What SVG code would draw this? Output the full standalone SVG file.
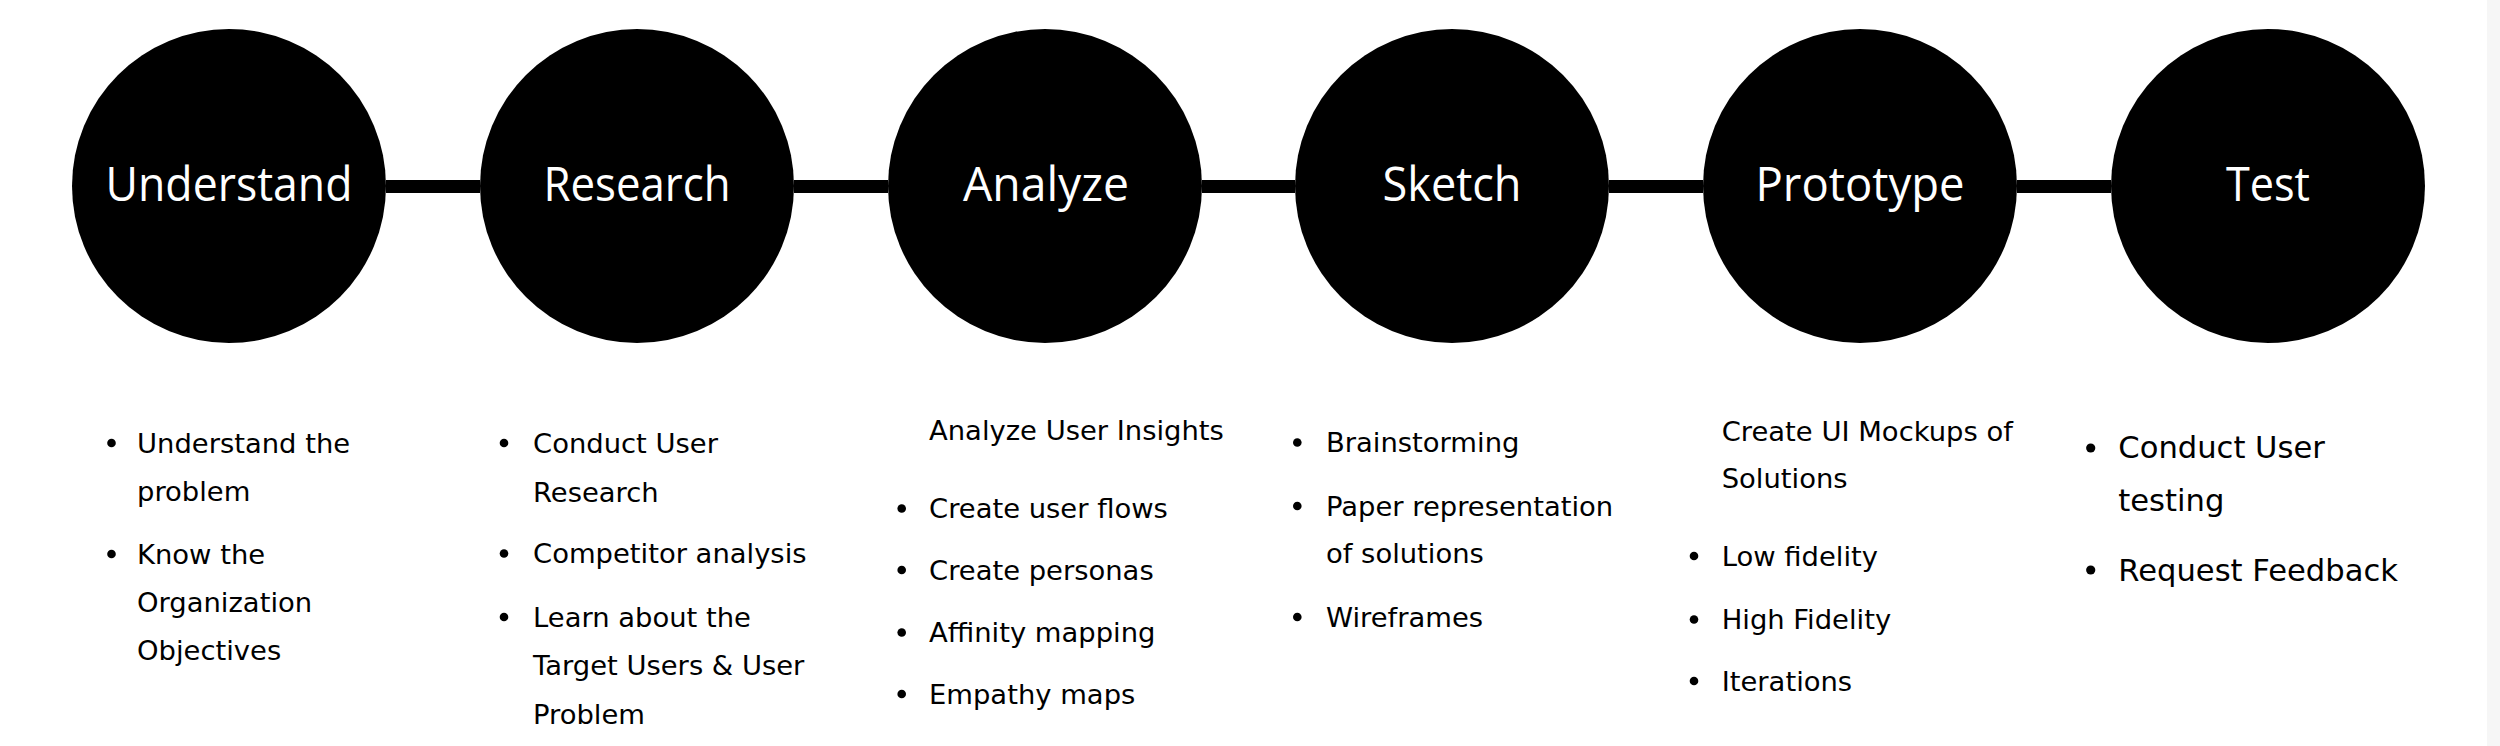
<svg xmlns="http://www.w3.org/2000/svg" width="2500" height="746" viewBox="0 0 2500 746">
<style>
.c{fill:#000}
.lbl{font-family:"Open Sans","Noto Sans",sans-serif;font-size:48px;fill:#fff;text-anchor:middle}
.t{font-family:"DejaVu Sans","Liberation Sans",sans-serif;font-size:27.4px;fill:#000}
.t2{font-family:"DejaVu Sans","Liberation Sans",sans-serif;font-size:30.6px;fill:#000}
.b{fill:#000}
.bar{fill:#000}
</style>
<rect x="0" y="0" width="2500" height="746" fill="#fff"/>
<rect x="2487" y="0" width="13" height="746" fill="#f6f6f6"/>
<g id="connectors">
<rect class="bar" x="386" y="180" width="94" height="13"/>
<rect class="bar" x="794" y="180" width="94" height="13"/>
<rect class="bar" x="1202" y="180" width="93" height="13"/>
<rect class="bar" x="1609" y="180" width="94" height="13"/>
<rect class="bar" x="2017" y="180" width="94" height="13"/>
</g>
<g id="understand">
<circle class="c" cx="229" cy="186" r="157"/>
<text class="lbl" x="229" y="201" textLength="247" lengthAdjust="spacingAndGlyphs">Understand</text>
<circle class="b" cx="111.5" cy="443" r="4.3"/>
<text class="t" x="137" y="452.7">Understand the</text>
<text class="t" x="137" y="501">problem</text>
<circle class="b" cx="111.5" cy="554" r="4.3"/>
<text class="t" x="137" y="564">Know the</text>
<text class="t" x="137" y="612">Organization</text>
<text class="t" x="137" y="660">Objectives</text>
</g>
<g id="research">
<circle class="c" cx="637" cy="186" r="157"/>
<text class="lbl" x="637" y="201" textLength="187" lengthAdjust="spacingAndGlyphs">Research</text>
<circle class="b" cx="504" cy="443" r="4.3"/>
<text class="t" x="533" y="452.7">Conduct User</text>
<text class="t" x="533" y="502">Research</text>
<circle class="b" cx="504" cy="553.5" r="4.3"/>
<text class="t" x="533" y="563.3">Competitor analysis</text>
<circle class="b" cx="504" cy="617" r="4.3"/>
<text class="t" x="533" y="626.7">Learn about the</text>
<text class="t" x="533" y="675">Target Users &amp; User</text>
<text class="t" x="533" y="724.3">Problem</text>
</g>
<g id="analyze">
<circle class="c" cx="1045" cy="186" r="157"/>
<text class="lbl" x="1046" y="201" textLength="166" lengthAdjust="spacingAndGlyphs">Analyze</text>
<text class="t" x="929" y="440">Analyze User Insights</text>
<circle class="b" cx="901.7" cy="508.5" r="4.3"/>
<text class="t" x="929" y="518.3">Create user flows</text>
<circle class="b" cx="901.7" cy="570" r="4.3"/>
<text class="t" x="929" y="580">Create personas</text>
<circle class="b" cx="901.7" cy="632.5" r="4.3"/>
<text class="t" x="929" y="642.3">Affinity mapping</text>
<circle class="b" cx="901.7" cy="694" r="4.3"/>
<text class="t" x="929" y="704">Empathy maps</text>
</g>
<g id="sketch">
<circle class="c" cx="1452" cy="186" r="157"/>
<text class="lbl" x="1452" y="201" textLength="139" lengthAdjust="spacingAndGlyphs">Sketch</text>
<circle class="b" cx="1297.3" cy="442.5" r="4.3"/>
<text class="t" x="1326" y="452.3">Brainstorming</text>
<circle class="b" cx="1297.3" cy="506" r="4.3"/>
<text class="t" x="1326" y="516">Paper representation</text>
<text class="t" x="1326" y="563.3">of solutions</text>
<circle class="b" cx="1297.3" cy="617" r="4.3"/>
<text class="t" x="1326" y="626.7">Wireframes</text>
</g>
<g id="prototype">
<circle class="c" cx="1860" cy="186" r="157"/>
<text class="lbl" x="1860" y="201" textLength="209" lengthAdjust="spacingAndGlyphs">Prototype</text>
<text class="t" x="1721.7" y="440.7">Create UI Mockups of</text>
<text class="t" x="1721.7" y="488.3">Solutions</text>
<circle class="b" cx="1694" cy="556" r="4.3"/>
<text class="t" x="1721.7" y="566">Low fidelity</text>
<circle class="b" cx="1694" cy="619.5" r="4.3"/>
<text class="t" x="1721.7" y="629.3">High Fidelity</text>
<circle class="b" cx="1694" cy="681" r="4.3"/>
<text class="t" x="1721.7" y="691">Iterations</text>
</g>
<g id="test">
<circle class="c" cx="2268" cy="186" r="157"/>
<text class="lbl" x="2268" y="201" textLength="84" lengthAdjust="spacingAndGlyphs">Test</text>
<circle class="b" cx="2090.7" cy="448" r="4.6"/>
<text class="t2" x="2118.3" y="458.3">Conduct User</text>
<text class="t2" x="2118.3" y="511">testing</text>
<circle class="b" cx="2090.7" cy="570" r="4.6"/>
<text class="t2" x="2118.3" y="580.7">Request Feedback</text>
</g>
</svg>
